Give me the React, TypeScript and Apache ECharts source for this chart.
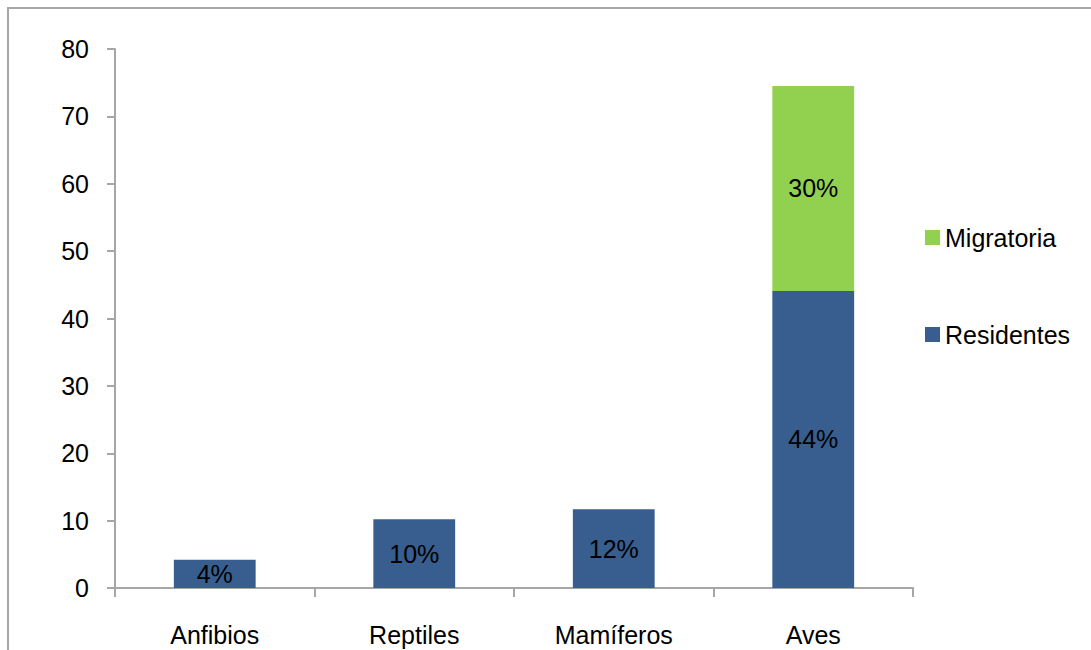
import React, { useEffect, useRef } from "react";
import * as echarts from "echarts";

const categories = ["Anfibios", "Reptiles", "Mamíferos", "Aves"];
const residentes = [4.2, 10.2, 11.7, 44.1];
const migratoria = [null, null, null, 30.4];
const residentesLabels = ["4%", "10%", "12%", "44%"];
const migratoriaLabels = ["", "", "", "30%"];
const yTicks = { min: 0, max: 80, interval: 10 };

const FONT = "'Liberation Sans', 'DejaVu Sans', sans-serif";
const FS = 25;

export default function App() {
  const ref = useRef<HTMLDivElement>(null);
  useEffect(() => {
    if (!ref.current) return;
    const chart = echarts.init(ref.current, undefined, { renderer: "svg" });
    chart.setOption({
      animation: false,
      backgroundColor: "#ffffff",
      textStyle: { fontFamily: FONT },
      graphic: [
        {
          type: "rect",
          shape: { x: 8, y: 8, width: 1200, height: 800 },
          style: { fill: "none", stroke: "#a6a6a6", lineWidth: 2 },
          silent: true,
        },
      ],
      grid: { left: 115, right: 178, top: 49, bottom: 62 },
      legend: {
        orient: "vertical",
        left: 920,
        top: 220,
        itemGap: 72,
        itemWidth: 15,
        itemHeight: 15,
        icon: "rect",
        data: ["Migratoria", "Residentes"],
        textStyle: { fontSize: FS, lineHeight: 24, color: "#000", fontFamily: FONT },
      },
      xAxis: {
        type: "category",
        data: categories,
        axisLine: { lineStyle: { color: "#a6a6a6", width: 2 } },
        axisTick: { show: true, length: 9, lineStyle: { color: "#a6a6a6", width: 2 } },
        axisLabel: { color: "#000", fontSize: FS, margin: 34, fontFamily: FONT },
      },
      yAxis: {
        type: "value",
        min: yTicks.min,
        max: yTicks.max,
        interval: yTicks.interval,
        axisLine: { show: true, lineStyle: { color: "#a6a6a6", width: 2 } },
        axisTick: { show: true, length: 8, lineStyle: { color: "#a6a6a6", width: 2 } },
        splitLine: { show: false },
        axisLabel: { color: "#000", fontSize: FS, margin: 26, fontFamily: FONT },
      },
      series: [
        {
          name: "Residentes",
          type: "bar",
          stack: "total",
          barWidth: "41%",
          data: residentes,
          itemStyle: { color: "#375e8f" },
          label: {
            show: true,
            position: "inside",
            color: "#000",
            fontSize: FS,
            fontFamily: FONT,
            formatter: (p: any) => residentesLabels[p.dataIndex],
          },
        },
        {
          name: "Migratoria",
          type: "bar",
          stack: "total",
          barWidth: "41%",
          data: migratoria,
          itemStyle: { color: "#92d050" },
          label: {
            show: true,
            position: "inside",
            color: "#000",
            fontSize: FS,
            fontFamily: FONT,
            formatter: (p: any) => migratoriaLabels[p.dataIndex],
          },
        },
      ],
    });
    return () => chart.dispose();
  }, []);
  return (
    <div
      ref={ref}
      style={{ position: "absolute", left: 0, top: 0, width: 1091, height: 650 }}
    />
  );
}
